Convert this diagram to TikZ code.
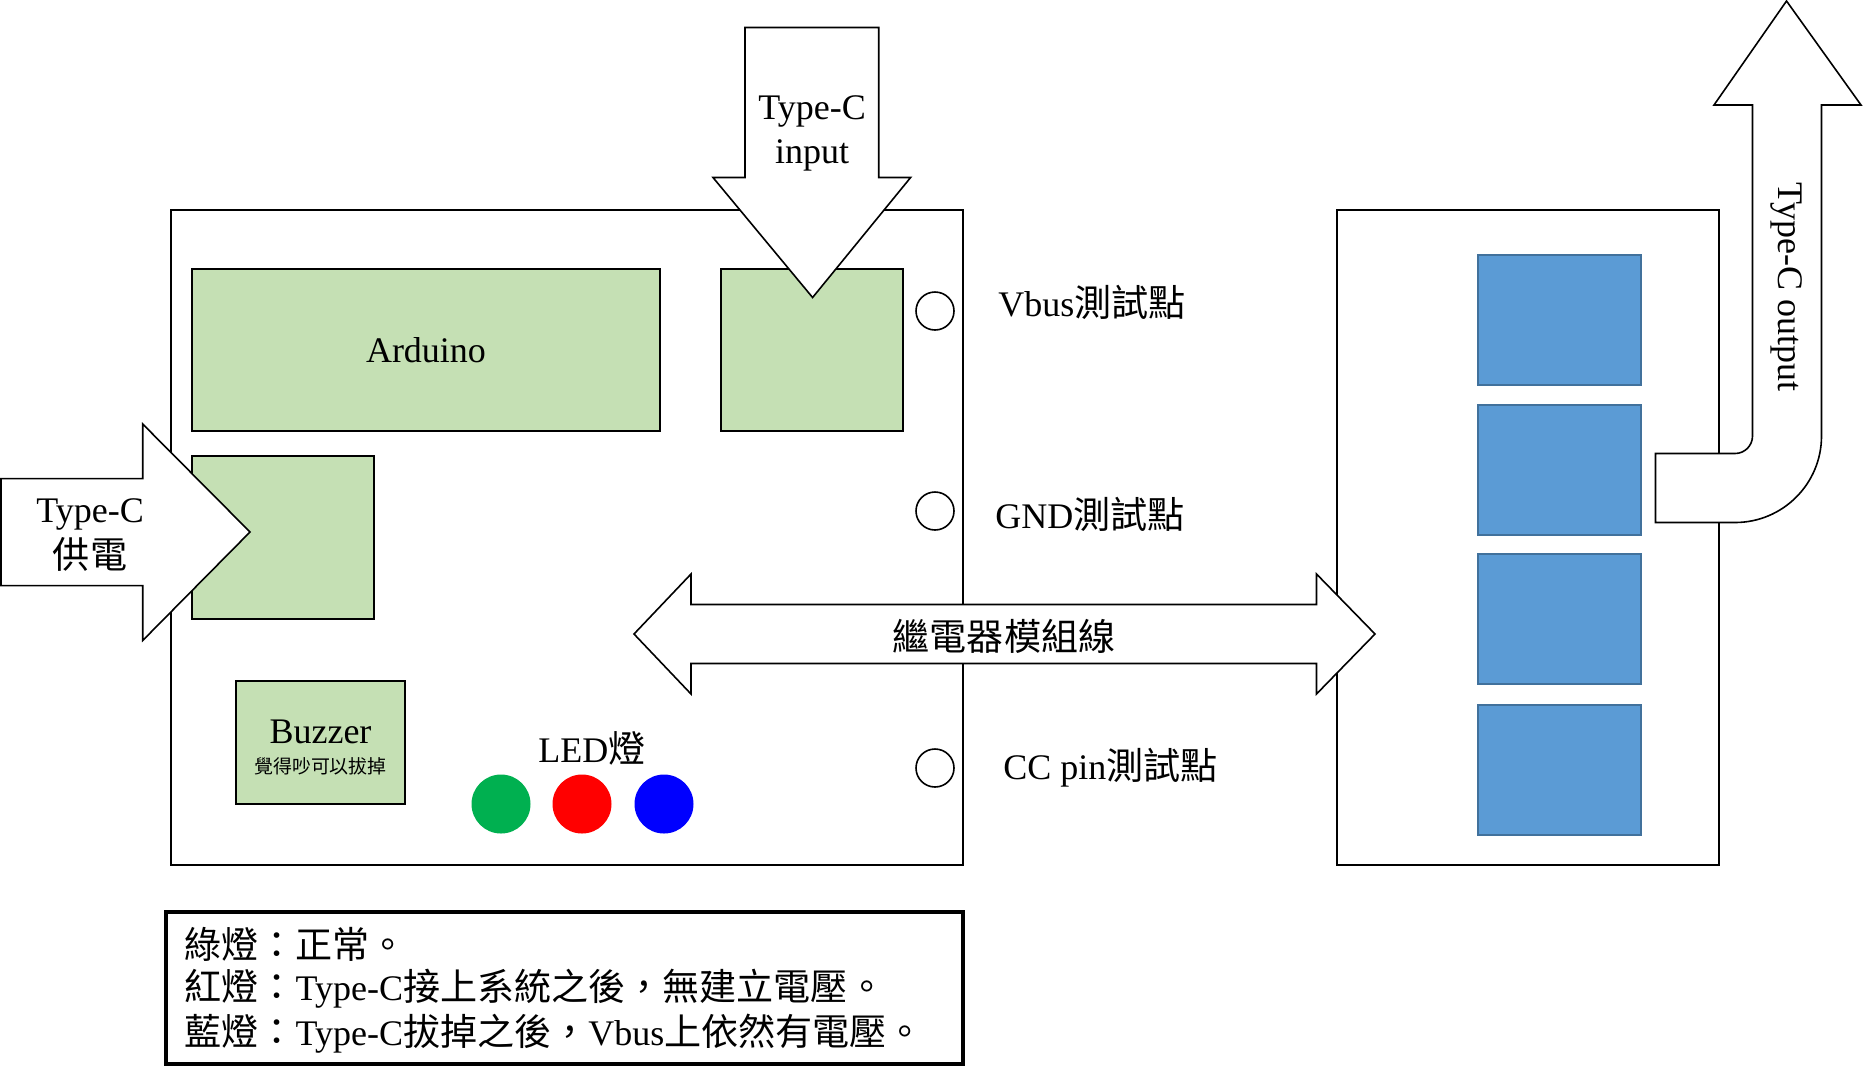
\documentclass[tikz,border=0pt]{standalone}
\usepackage{fontspec}
\setmainfont{Liberation Serif}
\newfontfamily\cjk[Scale=1.03]{Noto Sans CJK TC}
\usepackage{tikz}
\usepackage{xcolor}
\definecolor{modgreen}{HTML}{C5E0B4}
\definecolor{relayblue}{HTML}{5B9BD5}
\definecolor{relayedge}{HTML}{41719C}
\definecolor{ledgreen}{HTML}{00B050}
\newcommand{\zhtext}[1]{{\cjk #1}}

\begin{document}
\begin{tikzpicture}[x=0.5pt,y=-0.5pt,
    board/.style={draw=black,line width=1.3pt,fill=white},
    module/.style={draw=black,line width=1.3pt,fill=modgreen},
    relay/.style={draw=relayedge,line width=1pt,fill=relayblue},
    blockarrow/.style={draw=black,line width=0.8pt,fill=white,line join=miter},
    txt/.style={font=\fontsize{18}{22}\selectfont,inner sep=0pt},
    testpoint/.style={circle,draw=black,line width=0.8pt,minimum size=19pt,inner sep=0pt},
    led/.style={circle,minimum size=29.5pt,inner sep=0pt}]
  \useasboundingbox (0,0) rectangle (1863,1078);
  % boards
  \draw[board] (171,210) rectangle (963,865);
  \draw[board] (1337,210) rectangle (1719,865);
  % modules on the main board
  \draw[module] (192,269) rectangle (660,431);
  \node[txt] (arduino) at (426,350) {Arduino};
  \draw[module] (721,269) rectangle (903,431);
  \draw[module] (192,456) rectangle (374,619);
  \draw[module] (236,681) rectangle (405,804);
  \node[txt] (buzzer) at (320.5,732) {Buzzer};
  \node[inner sep=0pt,font=\fontsize{9.2}{11}\selectfont] (buzzernote) at (320.5,766) {\zhtext{覺得吵可以拔掉}};
  % relays
  \foreach \i/\y in {1/255,2/405,3/554,4/705}
    \draw[relay] (1478,\y) rectangle (1641,\y+130);
  % LEDs
  \foreach \n/\c/\x in {ledg/ledgreen/501,ledr/red/582,ledb/blue/664}
    \node[led,fill=\c] (\n) at (\x,804) {};
  \node[txt] (ledlabel) at (592,748) {LED\zhtext{燈}};
  % test points
  \node[testpoint] (vbus) at (935,311) {};
  \node[testpoint] (gnd) at (935,511) {};
  \node[testpoint] (cc) at (935,768) {};
  \node[txt,anchor=west] (vbuslabel) at (998,302) {Vbus\zhtext{測試點}};
  \node[txt,anchor=west] (gndlabel) at (995,514) {GND\zhtext{測試點}};
  \node[txt,anchor=west] (cclabel) at (1003,768) {CC pin\zhtext{測試點}};
  % block arrows
  \draw[blockarrow] (745,27.5) -- (878.7,27.5) -- (878.7,177.5) -- (910.6,177.5)
    -- (812.6,297.5) -- (713,177.5) -- (745,177.5) -- cycle;
  \node[txt,align=center] (inputlabel) at (812,133) {Type-C\\input};
  \draw[blockarrow] (1,478.6) -- (142.7,478.6) -- (142.7,424) -- (250,532)
    -- (142.7,640.5) -- (142.7,585.6) -- (1,585.6) -- cycle;
  \node[txt,align=center,font=\fontsize{18}{23}\selectfont] (powerlabel) at (90,535) {Type-C\\\zhtext{供電}};
  \draw[blockarrow] (634,634) -- (691,574) -- (691,604.5) -- (1316.5,604.5)
    -- (1316.5,574) -- (1375,634) -- (1316.5,694) -- (1316.5,663.5)
    -- (691,663.5) -- (691,694) -- cycle;
  \node[txt] (relayline) at (1004,636) {\zhtext{繼電器模組線}};
  \draw[blockarrow] (1655.5,453.5) -- (1735,453.5) arc[start angle=90,end angle=0,radius=17.5]
    -- (1752.5,105) -- (1714,105) -- (1786.5,1) -- (1861,105) -- (1821.5,105)
    -- (1821.5,436) arc[start angle=0,end angle=90,radius=86.5] -- (1655.5,522.5) -- cycle;
  \node[txt,rotate=-90] (outputlabel) at (1787,287) {Type-C output};
  % legend
  \draw[line width=1.6pt] (166,912) rectangle (963,1064);
  \foreach \i/\line in {1/{\zhtext{綠燈：正常。}},
      2/{\zhtext{紅燈：}Type-C\zhtext{接上系統之後，無建立電壓。}},
      3/{\zhtext{藍燈：}Type-C\zhtext{拔掉之後，}Vbus\zhtext{上依然有電壓。}}}
    \node[txt,anchor=west] (legend\i) at (184,899+45*\i) {\line};
\end{tikzpicture}
\end{document}
